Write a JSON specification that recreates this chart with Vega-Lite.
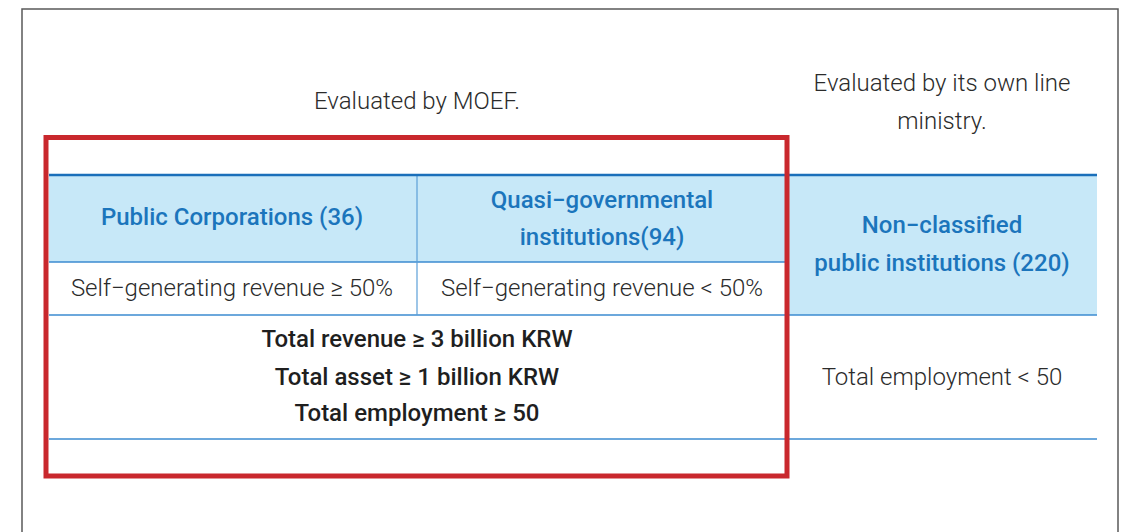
{
  "$schema": "https://vega.github.io/schema/vega-lite/v6.json",
  "width": 1125,
  "height": 532,
  "autosize": {"type": "fit", "contains": "padding"},
  "padding": 0,
  "background": "white",
  "config": {"view": {"stroke": null}},
  "datasets": {
    "frame": [{"x0": 22, "x1": 1118, "y0": 9, "y1": 560}],
    "fills": [
      {"x0": 49, "x1": 1097, "y0": 176, "y1": 262},
      {"x0": 787, "x1": 1097, "y0": 262, "y1": 315}
    ],
    "topline": [{"x0": 49, "x1": 1097, "y": 175}],
    "hlines": [
      {"x0": 49, "x1": 787, "y": 262},
      {"x0": 49, "x1": 1097, "y": 315},
      {"x0": 49, "x1": 1097, "y": 439}
    ],
    "vlines": [{"x": 417, "y0": 176, "y1": 315}],
    "redbox": [{"x0": 46, "x1": 787, "y0": 137.5, "y1": 476}],
    "lightText": [
      {"x": 417, "y": 102, "t": "Evaluated by MOEF."},
      {"x": 942, "y": 84, "t": "Evaluated by its own line"},
      {"x": 942, "y": 122, "t": "ministry."},
      {"x": 232, "y": 289, "t": "Self−generating revenue ≥ 50%"},
      {"x": 602, "y": 289, "t": "Self−generating revenue < 50%"},
      {"x": 942, "y": 378, "t": "Total employment < 50"}
    ],
    "blueText": [
      {"x": 232, "y": 218, "t": "Public Corporations (36)"},
      {"x": 602, "y": 201, "t": "Quasi−governmental"},
      {"x": 602, "y": 238, "t": "institutions(94)"},
      {"x": 942, "y": 226, "t": "Non−classified"},
      {"x": 942, "y": 264, "t": "public institutions (220)"}
    ],
    "boldText": [
      {"x": 417, "y": 340, "t": "Total revenue ≥ 3 billion KRW"},
      {"x": 417, "y": 378, "t": "Total asset ≥ 1 billion KRW"},
      {"x": 417, "y": 414, "t": "Total employment ≥ 50"}
    ]
  },
  "layer": [
    {
      "data": {"name": "fills"},
      "mark": {"type": "rect", "fill": "#c7e8f8", "stroke": null},
      "encoding": {
        "x": {"field": "x0", "type": "quantitative", "scale": {"domain": [0, 1125], "nice": false, "zero": false}, "axis": null},
        "x2": {"field": "x1"},
        "y": {"field": "y0", "type": "quantitative", "scale": {"domain": [0, 532], "nice": false, "zero": false, "reverse": true}, "axis": null},
        "y2": {"field": "y1"}
      }
    },
    {
      "data": {"name": "frame"},
      "mark": {"type": "rect", "filled": false, "stroke": "#5a5a5a", "strokeWidth": 1.5, "clip": true},
      "encoding": {
        "x": {"field": "x0", "type": "quantitative"},
        "x2": {"field": "x1"},
        "y": {"field": "y0", "type": "quantitative"},
        "y2": {"field": "y1"}
      }
    },
    {
      "data": {"name": "hlines"},
      "mark": {"type": "rule", "stroke": "#3b8bd0", "strokeWidth": 1.5},
      "encoding": {
        "x": {"field": "x0", "type": "quantitative"},
        "x2": {"field": "x1"},
        "y": {"field": "y", "type": "quantitative"}
      }
    },
    {
      "data": {"name": "vlines"},
      "mark": {"type": "rule", "stroke": "#5c9fd8", "strokeWidth": 1.2},
      "encoding": {
        "x": {"field": "x", "type": "quantitative"},
        "y": {"field": "y0", "type": "quantitative"},
        "y2": {"field": "y1"}
      }
    },
    {
      "data": {"name": "topline"},
      "mark": {"type": "rule", "stroke": "#1a6fba", "strokeWidth": 2.5},
      "encoding": {
        "x": {"field": "x0", "type": "quantitative"},
        "x2": {"field": "x1"},
        "y": {"field": "y", "type": "quantitative"}
      }
    },
    {
      "data": {"name": "redbox"},
      "mark": {"type": "rect", "filled": false, "stroke": "#c9282d", "strokeWidth": 5},
      "encoding": {
        "x": {"field": "x0", "type": "quantitative"},
        "x2": {"field": "x1"},
        "y": {"field": "y0", "type": "quantitative"},
        "y2": {"field": "y1"}
      }
    },
    {
      "data": {"name": "lightText"},
      "mark": {"type": "text", "font": "Roboto", "fontSize": 24, "fontWeight": 300, "color": "#2b2b2b", "align": "center", "baseline": "middle"},
      "encoding": {
        "x": {"field": "x", "type": "quantitative"},
        "y": {"field": "y", "type": "quantitative"},
        "text": {"field": "t"}
      }
    },
    {
      "data": {"name": "blueText"},
      "mark": {"type": "text", "font": "Roboto", "fontSize": 24, "fontWeight": 500, "color": "#1b75bc", "align": "center", "baseline": "middle"},
      "encoding": {
        "x": {"field": "x", "type": "quantitative"},
        "y": {"field": "y", "type": "quantitative"},
        "text": {"field": "t"}
      }
    },
    {
      "data": {"name": "boldText"},
      "mark": {"type": "text", "font": "Roboto", "fontSize": 24, "fontWeight": 500, "color": "#1f1f1f", "align": "center", "baseline": "middle"},
      "encoding": {
        "x": {"field": "x", "type": "quantitative"},
        "y": {"field": "y", "type": "quantitative"},
        "text": {"field": "t"}
      }
    }
  ]
}
